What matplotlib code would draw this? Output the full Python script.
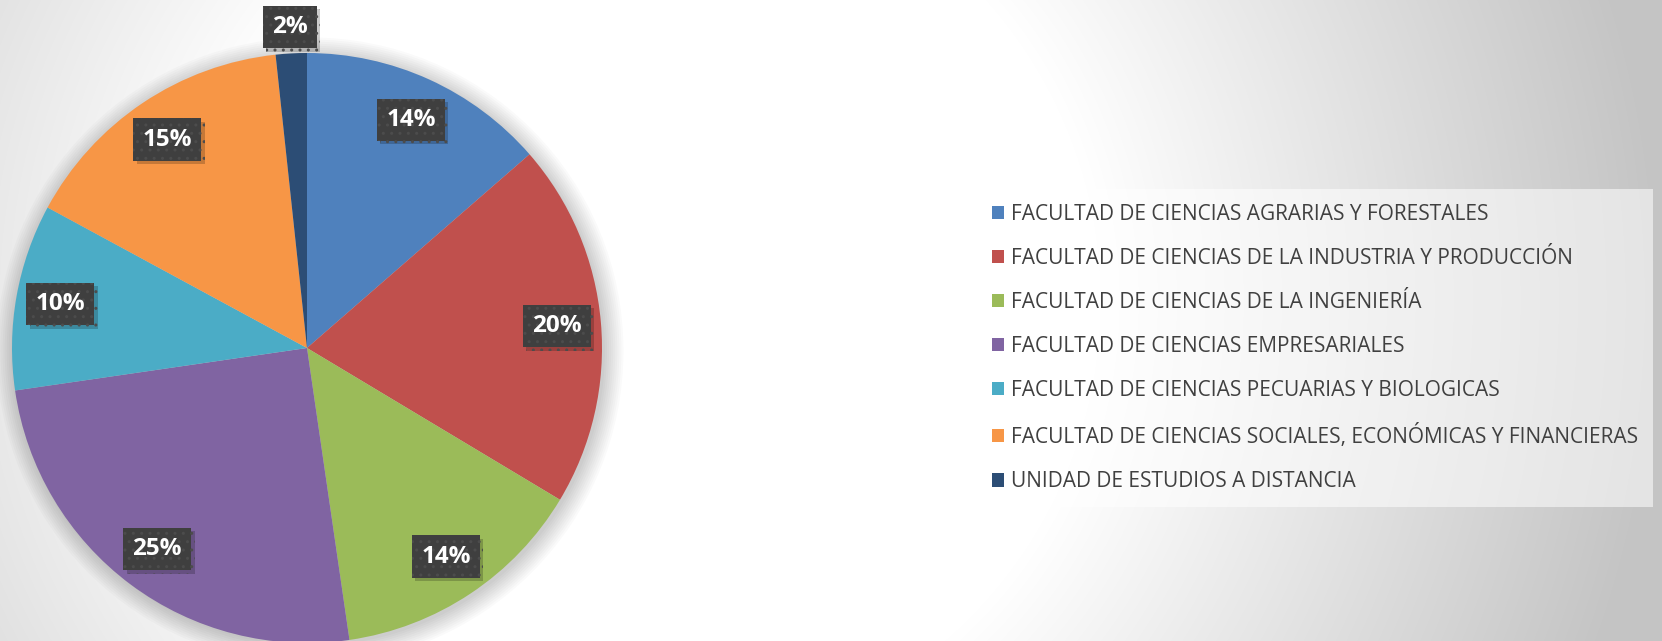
import numpy as np
import matplotlib
matplotlib.use("Agg")
import matplotlib.pyplot as plt
import matplotlib.patheffects as pe
from matplotlib.patches import Circle, Patch

plt.rcParams["font.family"] = ["Open Sans", "DejaVu Sans"]

# data (share of students, %)
facultades = [
    "FACULTAD DE CIENCIAS AGRARIAS Y FORESTALES",
    "FACULTAD DE CIENCIAS DE LA INDUSTRIA Y PRODUCCIÓN",
    "FACULTAD DE CIENCIAS DE LA INGENIERÍA",
    "FACULTAD DE CIENCIAS EMPRESARIALES",
    "FACULTAD DE CIENCIAS PECUARIAS Y BIOLOGICAS",
    "FACULTAD DE CIENCIAS SOCIALES, ECONÓMICAS Y FINANCIERAS",
    "UNIDAD DE ESTUDIOS A DISTANCIA",
]
porcentajes = [13.6, 20.0, 14.1, 25.0, 10.2, 15.4, 1.7]
colores = ["#4F81BD", "#C0504D", "#9BBB59", "#8064A2", "#4BACC6", "#F79646", "#2C4D75"]

W, H = 1662, 641
fig = plt.figure(figsize=(W / 100, H / 100), dpi=100)

# background radial gradient
bg = fig.add_axes([0, 0, 1, 1], zorder=-5)
yy, xx = np.mgrid[0:H, 0:W]
d = np.hypot(xx - 650, yy - 300)
val = 1 - 0.23 * np.clip((d - 450) / 560, 0, 1)
bg.imshow(np.dstack([val, val, val]), extent=(0, W, H, 0), aspect="auto")
bg.set_xlim(0, W)
bg.set_ylim(H, 0)
bg.axis("off")

# pie axes: centre about (307, 348) px, radius 295 px
cx, cy, r = 307, 348, 295
ax = fig.add_axes([(cx - r) / W, (H - cy - r) / H, 2 * r / W, 2 * r / H])

# soft shadow round the pie
for k in range(10):
    ax.add_patch(Circle((0.01, -0.01), 1.0 + 0.007 * k, color="black",
                        alpha=0.018, lw=0, zorder=0, clip_on=False))

wedges, _ = ax.pie(porcentajes, colors=colores, startangle=90, counterclock=False,
                   wedgeprops=dict(linewidth=0, zorder=2))
for w in wedges:
    w.set_clip_on(False)
ax.set_xlim(-1, 1)
ax.set_ylim(-1, 1)
ax.set_aspect("equal")
ax.axis("off")

# percentage labels in dark boxes
for i, w in enumerate(wedges):
    ang = np.deg2rad((w.theta1 + w.theta2) / 2)
    dist = 1.09 if porcentajes[i] < 5 else 0.85
    t = ax.text(dist * np.cos(ang), dist * np.sin(ang), f"{round(porcentajes[i])}%",
                ha="center", va="center", color="white", fontsize=17.5, fontweight="bold",
                zorder=5,
                bbox=dict(boxstyle="square,pad=0.38", facecolor="#3F3F3F",
                          edgecolor="#4C4C4C", linewidth=0, hatch=".."))
    t.get_bbox_patch().set_path_effects([
        pe.SimplePatchShadow(offset=(2.5, -2.5), shadow_rgbFace="black", alpha=0.2),
        pe.Normal()])

handles = [Patch(facecolor=c, edgecolor="none") for c in colores]
leg = fig.legend(handles, facultades, loc="upper left",
                 bbox_to_anchor=(977 / W, 1 - 189 / H),
                 fontsize=15, labelcolor="#404040", frameon=True, fancybox=False,
                 handlelength=0.6, handleheight=0.6, handletextpad=0.35,
                 labelspacing=1.11, borderpad=0.7, borderaxespad=0)
frame = leg.get_frame()
frame.set_facecolor("white")
frame.set_alpha(0.55)
frame.set_edgecolor("none")

fig.savefig("out.png", dpi=100)
